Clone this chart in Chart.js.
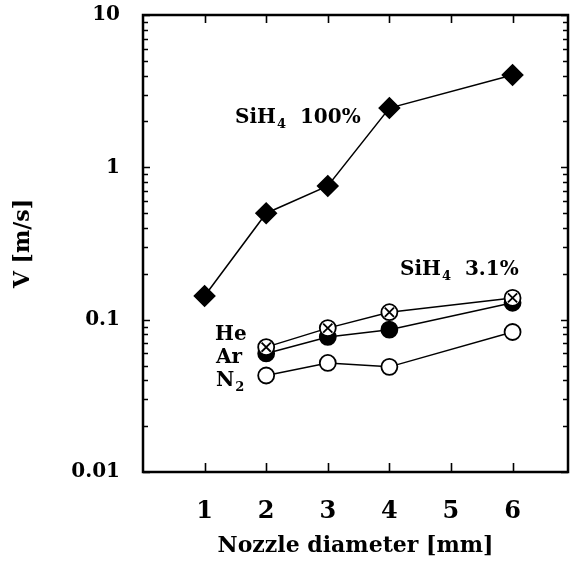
<!DOCTYPE html>
<html><head><meta charset="utf-8">
<script src="https://cdn.jsdelivr.net/npm/chart.js@4.4.0/dist/chart.umd.min.js"></script>
<style>html,body{margin:0;padding:0;background:#fff;overflow:hidden}</style>
</head><body>
<canvas id="c" width="572" height="581"></canvas>
<script>
// ---- data ----
const nozzleSi = [1, 2, 3, 4, 6];
const nozzleGas = [2, 3, 4, 6];
const sih4Pure = [0.143, 0.50, 0.755, 2.45, 4.04];
const heVals = [0.066, 0.088, 0.112, 0.139];
const arVals = [0.060, 0.077, 0.086, 0.129];
const n2Vals = [0.043, 0.052, 0.049, 0.083];
const xTickVals = [1, 2, 3, 4, 5, 6];
const yTickVals = [0.01, 0.1, 1, 10];
const yTickLabels = ['0.01', '0.1', '1', '10'];
const xTitle = 'Nozzle diameter [mm]';
const yTitle = 'V [m/s]';
// annotation texts: [main, subscript, rest]
const notes = [
  {parts: ['SiH', '4', '  100%'], px: 235, py: 123},
  {parts: ['SiH', '4', '  3.1%'], px: 400, py: 275},
  {parts: ['He', '', ''], px: 215, py: 340},
  {parts: ['Ar', '', ''], px: 216, py: 363},
  {parts: ['N', '2', ''], px: 216, py: 386}
];

const FONT = "'DejaVu Serif', 'Liberation Serif', serif";
const pts = (xs, ys) => xs.map((x, i) => ({x: x, y: ys[i]}));

const framePlugin = {
  id: 'frame',
  afterDraw(chart) {
    const ctx = chart.ctx, a = chart.chartArea;
    const xs = chart.scales.x, ys = chart.scales.y;
    ctx.save();
    ctx.strokeStyle = '#000';
    ctx.lineWidth = 2.5;
    ctx.strokeRect(a.left, a.top, a.right - a.left, a.bottom - a.top);
    ctx.lineWidth = 1.6;
    ctx.beginPath();
    xTickVals.forEach(v => {
      const p = Math.round(xs.getPixelForValue(v)) + 0.5;
      ctx.moveTo(p, a.bottom); ctx.lineTo(p, a.bottom - 9);
      ctx.moveTo(p, a.top); ctx.lineTo(p, a.top + 8);
    });
    [0.01, 0.1, 1].forEach(d => {
      for (let k = 1; k <= 10; k++) {
        const v = d * k;
        if (v > 10.0001) continue;
        const p = Math.round(ys.getPixelForValue(v)) + 0.5;
        const len = (k === 1 || k === 10) ? 7 : 5;
        ctx.moveTo(a.left, p); ctx.lineTo(a.left + len, p);
        ctx.moveTo(a.right, p); ctx.lineTo(a.right - len, p);
      }
    });
    ctx.stroke();
    // annotations
    ctx.fillStyle = '#000';
    ctx.textBaseline = 'alphabetic';
    notes.forEach(n => {
      let x = n.px;
      ctx.font = 'bold 20px ' + FONT;
      ctx.fillText(n.parts[0], x, n.py);
      x += ctx.measureText(n.parts[0]).width;
      if (n.parts[1]) {
        ctx.font = 'bold 13px ' + FONT;
        ctx.fillText(n.parts[1], x + 1, n.py + 5);
        x += ctx.measureText(n.parts[1]).width + 1;
      }
      if (n.parts[2]) {
        ctx.font = 'bold 20px ' + FONT;
        ctx.fillText(n.parts[2], x, n.py);
      }
    });
    ctx.restore();
  }
};

const lineDs = (label, data, style, fill, radius) => ({
  label, data, showLine: true,
  borderColor: '#000', borderWidth: 1.5,
  pointStyle: style, pointRadius: radius, pointHoverRadius: radius,
  pointBackgroundColor: fill, pointBorderColor: '#000', pointBorderWidth: 1.8
});

new Chart(document.getElementById('c'), {
  type: 'scatter',
  data: {
    datasets: [
      {label: 'He-x', data: pts(nozzleGas, heVals), showLine: false,
       pointStyle: 'crossRot', pointRadius: 6.5, pointBorderColor: '#000', pointBorderWidth: 1.8},
      lineDs('He', pts(nozzleGas, heVals), 'circle', '#fff', 8),
      lineDs('Ar', pts(nozzleGas, arVals), 'circle', '#000', 8),
      lineDs('N2', pts(nozzleGas, n2Vals), 'circle', '#fff', 8),
      lineDs('SiH4 100%', pts(nozzleSi, sih4Pure), 'rectRot', '#000', 10)
    ]
  },
  options: {
    responsive: false, animation: false, devicePixelRatio: 1,
    layout: {autoPadding: false, padding: {top: 15, right: 4, left: 0, bottom: 0}},
    plugins: {legend: {display: false}, tooltip: {enabled: false}},
    scales: {
      x: {
        type: 'linear', min: 0, max: 6.9,
        afterBuildTicks: s => { s.ticks = xTickVals.map(v => ({value: v})); },
        afterFit: s => { s.height = 109; s.paddingLeft = 0; s.paddingRight = 0; },
        grid: {display: false, drawTicks: false},
        border: {display: false},
        ticks: {color: '#000', padding: 25, font: {family: FONT, size: 24, weight: 'bold'},
                callback: v => String(v)},
        title: {display: true, text: xTitle, color: '#000',
                font: {family: FONT, size: 22, weight: 'bold'}, padding: {top: 0, bottom: 22}}
      },
      y: {
        type: 'logarithmic', min: 0.01, max: 10,
        afterBuildTicks: s => { s.ticks = yTickVals.map(v => ({value: v})); },
        afterFit: s => { s.width = 143; s.paddingTop = 0; s.paddingBottom = 0; },
        grid: {display: false, drawTicks: false},
        border: {display: false},
        ticks: {color: '#000', padding: 23, font: {family: FONT, size: 20, weight: 'bold'},
                callback: (v, i) => yTickLabels[i]},
        title: {display: true, text: yTitle, color: '#000',
                font: {family: FONT, size: 22, weight: 'bold'}, padding: {top: 10, bottom: 0}}
      }
    }
  },
  plugins: [framePlugin]
});
</script>
</body></html>
